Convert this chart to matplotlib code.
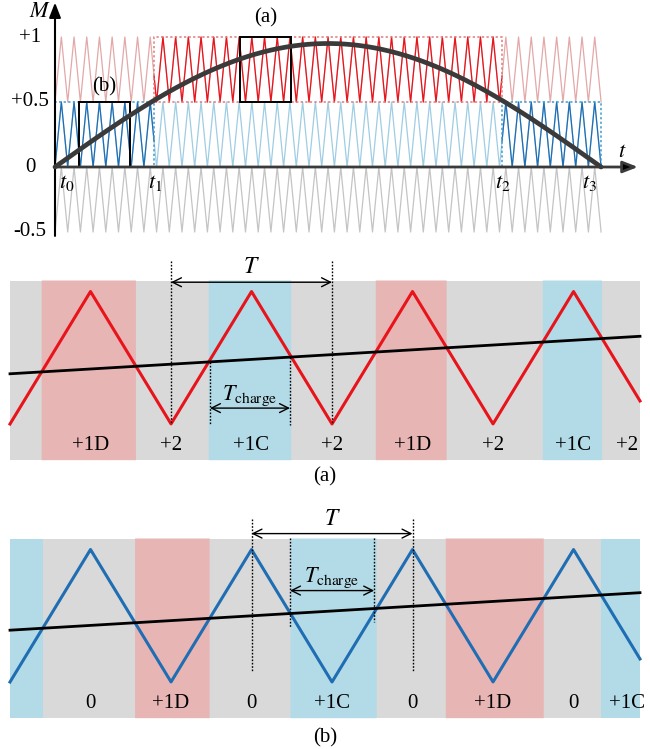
import numpy as np
from matplotlib import pyplot as plt
from matplotlib.patches import Rectangle

plt.rcParams['font.family'] = 'serif'
plt.rcParams['font.serif'] = ['Liberation Serif', 'DejaVu Serif']
plt.rcParams['mathtext.fontset'] = 'stix'

# ---- top panel data (time in carrier periods) ----
n_periods = 43
t_marks = [0.0, 7.8, 35.2, 43.0]          # t0, t1, t2, t3
t_names = ['$t_0$', '$t_1$', '$t_2$', '$t_3$']
t_label_x = [0.95, 7.85, 35.25, 42.1]
m_peak = 0.95
carrier_levels = [(0.5, 1.0), (0.0, 0.5), (-0.5, 0.0)]   # upper, middle, lower
m_ticks = [1.0, 0.5, 0.0, -0.5]
m_tick_labels = ['+1', '+0.5', '0', '-0.5']
box_a = (14.6, 18.6, 0.5, 1.0)
box_b = (1.9, 5.9, 0.0, 0.5)

# ---- zoomed panels data (x in carrier periods, carrier 0..1) ----
x_end = 3.913
mod_a = (0.379, 0.662)
mod_b = (0.391, 0.674)
labels_a = ['+1D', '+2', '+1C', '+2', '+1D', '+2', '+1C', '+2']
labels_b = ['0', '+1D', '0', '+1C', '0', '+1D', '0', '+1C']
label_x = [0.5, 1.0, 1.5, 2.0, 2.5, 3.0, 3.5, 3.83]
tcharge_a = [1.242, 1.739]
tcharge_b = [1.739, 2.262]
T_a = [1.0, 2.0]
T_b = [1.5, 2.5]

RED, RED_L = '#e8141c', '#e3a8a8'
BLUE, BLUE_L = '#1f6db3', '#9fcde3'
GREY_L = '#c4c4c4'
BAND_GREY, BAND_RED, BAND_BLUE = '#d9d9d9', '#e8b5b5', '#b3dbe7'

W, H = 650, 749
fig = plt.figure(figsize=(W / 100, H / 100), dpi=100)


def px_axes(x0, y0, x1, y1):
    ax = fig.add_axes([x0 / W, 1 - y1 / H, (x1 - x0) / W, (y1 - y0) / H])
    ax.axis('off')
    return ax


def tri(x):
    return 1 - 2 * np.abs((x % 1) - 0.5)


# ================= top panel =================
ax = px_axes(0, 0, 650, 250)
ax.set_xlim(-55 / 12.7, 595 / 12.7)
ax.set_ylim(-83 / 130, 167 / 130)

t = np.linspace(0, n_periods, n_periods * 60 + 1)
light = [RED_L, BLUE_L, GREY_L]
for (lo, hi), c in zip(carrier_levels, light):
    ax.plot(t, lo + (hi - lo) * tri(t), color=c, lw=0.9, zorder=1)

active = [(t_marks[0], t_marks[1], carrier_levels[1], BLUE, '#3d9bd1'),
          (t_marks[1], t_marks[2], carrier_levels[0], RED, '#e07a7a'),
          (t_marks[2], t_marks[3], carrier_levels[1], BLUE, '#3d9bd1')]
for a, b, (lo, hi), c, dc in active:
    tt = t[(t >= a) & (t <= b)]
    ax.plot(tt, lo + (hi - lo) * tri(tt), color=c, lw=0.9, zorder=2)
    ax.add_patch(Rectangle((a, lo), b - a, hi - lo, fill=False, ec=dc,
                           ls=(0, (1.5, 1.5)), lw=1.1, zorder=2))

for (x0, x1, y0, y1) in [box_a, box_b]:
    ax.add_patch(Rectangle((x0, y0), x1 - x0, y1 - y0, fill=False,
                           ec='black', lw=1.4, zorder=3))
ax.text((box_a[0] + box_a[1]) / 2, 1.15, '(a)', ha='center', va='center', fontsize=15)
ax.text((box_b[0] + box_b[1]) / 2, 0.62, '(b)', ha='center', va='center', fontsize=15)

ax.plot(t, m_peak * np.sin(np.pi * t / n_periods), color='#3a3a3a', lw=3.4,
        zorder=5, solid_capstyle='round')

ax.annotate('', xy=(45.9, 0), xytext=(0, 0),
            arrowprops=dict(arrowstyle='-|>,head_length=0.9,head_width=0.35',
                            color='#3a3a3a', fc='black', lw=2, shrinkA=0, shrinkB=0),
            zorder=4)
ax.annotate('', xy=(0, 1.265), xytext=(0, -0.53),
            arrowprops=dict(arrowstyle='-|>,head_length=0.9,head_width=0.35',
                            color='black', lw=1.5, shrinkA=0, shrinkB=0),
            zorder=4)
ax.text(-1.2, 1.19, '$M$', ha='center', va='center', fontsize=16)
ax.text(44.7, 0.115, '$t$', ha='center', va='center', fontsize=16)
for y, s in zip(m_ticks, m_tick_labels):
    ax.text(-1.95, y, s, ha='center', va='center', fontsize=15)
for x, s in zip(t_label_x, t_names):
    ax.text(x, -0.125, s, ha='center', va='center', fontsize=16)


# ================= zoomed panels =================
def panel(y_valley_px, carrier_col, mod, labels, active_above, T_x, tc_x,
          T_y, tc_y, tc_from_top):
    ax = px_axes(0, y_valley_px - 175, 650, y_valley_px + 50)
    ax.set_xlim(-10 / 161, 640 / 161)
    ax.set_ylim(-50 / 132.5, 175 / 132.5)
    ylo, yhi = -0.273, 1.083
    x = np.linspace(0, x_end, 8001)
    y = tri(x)
    m = mod[0] + (mod[1] - mod[0]) * x / x_end
    ax.add_patch(Rectangle((0, ylo), x_end, yhi - ylo, fc=BAND_GREY, ec='none', zorder=0))
    above = y > m
    if active_above:
        k = np.floor(x).astype(int)
        red = above & (k % 2 == 0)
        blue = above & (k % 2 == 1)
    else:
        k = np.round(x).astype(int)
        red = ~above & (k % 2 == 1)
        blue = ~above & (k % 2 == 0)
    ax.fill_between(x, ylo, yhi, where=red, color=BAND_RED, lw=0, zorder=1)
    ax.fill_between(x, ylo, yhi, where=blue, color=BAND_BLUE, lw=0, zorder=1)
    ax.plot(x, y, color=carrier_col, lw=2.2, zorder=3)
    ax.plot(x, m, color='black', lw=2.0, zorder=4)
    for lx, s in zip(label_x, labels):
        ax.text(lx, -0.165, s, ha='center', va='center', fontsize=15, zorder=5)

    dot = dict(color='black', lw=1.0, ls=(0, (1.2, 1.2)), zorder=5)
    arr = dict(arrowstyle='<->', color='black', lw=1.0, shrinkA=0, shrinkB=0,
               mutation_scale=16)
    for xv in T_x:
        bottom = 0.0 if tri(xv) < 0.5 else 0.08
        ax.plot([xv, xv], [1.23, bottom], **dot)
    ax.annotate('', xy=(T_x[1], T_y), xytext=(T_x[0], T_y), arrowprops=arr, zorder=6)
    ax.text(np.mean(T_x), T_y + 0.11, '$T$', ha='center', va='center', fontsize=17, zorder=6)
    for xv in tc_x:
        mv = mod[0] + (mod[1] - mod[0]) * xv / x_end
        if tc_from_top:
            ax.plot([xv, xv], [1.09, mv - 0.1], **dot)
        else:
            ax.plot([xv, xv], [mv, -0.01], **dot)
    ax.annotate('', xy=(tc_x[1], tc_y), xytext=(tc_x[0], tc_y), arrowprops=arr, zorder=6)
    ax.text(np.mean(tc_x), tc_y + 0.095, r'$T_{\mathrm{charge}}$', ha='center',
            va='center', fontsize=16, zorder=6)


panel(424, RED, mod_a, labels_a, True, T_a, tcharge_a, 1.07, 0.12, False)
panel(682, BLUE, mod_b, labels_b, False, T_b, tcharge_b, 1.12, 0.69, True)

fig.text(325 / W, 1 - 477 / H, '(a)', ha='center', va='center', fontsize=15)
fig.text(325 / W, 1 - 738 / H, '(b)', ha='center', va='center', fontsize=15)

plt.savefig('out.png', dpi=100)
